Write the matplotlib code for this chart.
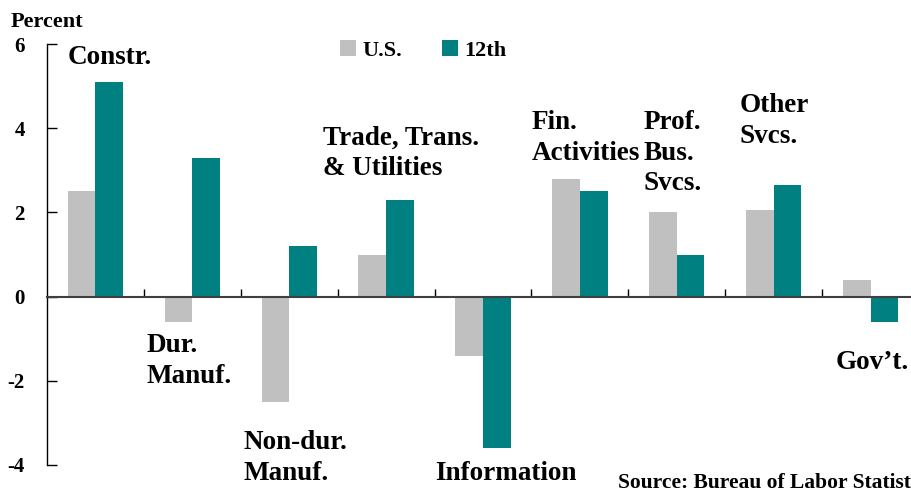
import matplotlib
matplotlib.use("Agg")
import matplotlib.pyplot as plt
from matplotlib.patches import Patch
import numpy as np

plt.rcParams["font.family"] = ["Liberation Serif", "DejaVu Serif"]
plt.rcParams["font.weight"] = "bold"

# data (percent)
sectors = ["Constr.", "Dur.\nManuf.", "Non-dur.\nManuf.", "Trade, Trans.\n& Utilities",
           "Information", "Fin.\nActivities", "Prof.\nBus.\nSvcs.", "Other\nSvcs.", "Gov\u2019t."]
us_vals = [2.5, -0.6, -2.5, 1.0, -1.4, 2.8, 2.0, 2.05, 0.4]
district_vals = [5.1, 3.3, 1.2, 2.3, -3.6, 2.5, 1.0, 2.65, -0.6]
yticks = [-4, -2, 0, 2, 4, 6]

# where the sector names sit (data coords, top-left of text)
label_x = [-0.29, 0.53, 1.53, 2.35, 3.51, 4.50, 5.66, 6.65, 7.64]
label_y = [5.97, -0.87, -3.17, 4.07, -3.91, 4.43, 4.43, 4.83, -1.27]

col_us = "#c0c0c0"
col_12 = "#008080"
fs_labels = 19.5
fs_ticks = 15
fs_legend = 16
bar_w = 0.285

fig = plt.figure(figsize=(9.12, 4.91), dpi=100)
ax = fig.add_axes([47/912, 26/491, 872/912, 421/491])

x = np.arange(len(sectors))
ax.bar(x - bar_w/2, us_vals, width=bar_w, color=col_us, label="U.S.", zorder=2)
ax.bar(x + bar_w/2, district_vals, width=bar_w, color=col_12, label="12th", zorder=2)

ax.set_xlim(-0.5, len(sectors) - 0.5)
ax.set_ylim(-4, 6)
ax.set_yticks(yticks)
ax.set_yticklabels([str(v) for v in yticks], fontsize=fs_ticks, fontweight="bold")
ax.tick_params(axis="y", direction="in", length=7, width=1, pad=16)

# zero line with category separators
ax.spines["bottom"].set_position(("data", 0))
ax.spines["bottom"].set_color("#404040")
ax.spines["bottom"].set_linewidth(1.5)
ax.spines["bottom"].set_zorder(3)
ax.set_xticks(x[:-1] + 0.5)
ax.set_xticklabels([])
ax.tick_params(axis="x", direction="in", length=6, width=1)
ax.spines["top"].set_visible(False)
ax.spines["right"].set_visible(False)
ax.spines["left"].set_linewidth(1)

for name, lx, ly in zip(sectors, label_x, label_y):
    ax.text(lx, ly, name, fontsize=fs_labels, fontweight="bold", ha="left", va="top",
            linespacing=1.3)

handles = [Patch(facecolor=col_us), Patch(facecolor=col_12)]
fig.legend(handles, ["U.S.", "12th"], loc="upper left", bbox_to_anchor=(340/912, 1 - 40/491),
           ncol=2, frameon=False, fontsize=fs_legend, handlelength=0.7, handleheight=0.7,
           handletextpad=0.3, columnspacing=1.8, borderpad=0, borderaxespad=0,
           prop={"weight": "bold", "size": fs_legend})

fig.text(11/912, 1 - 27/491, "Percent", fontsize=16, fontweight="bold", va="baseline")
fig.text(618/912, 1 - 488/491, "Source: Bureau of Labor Statistics", fontsize=15.5,
         fontweight="bold", va="baseline")

fig.savefig("out.png", dpi=100)
